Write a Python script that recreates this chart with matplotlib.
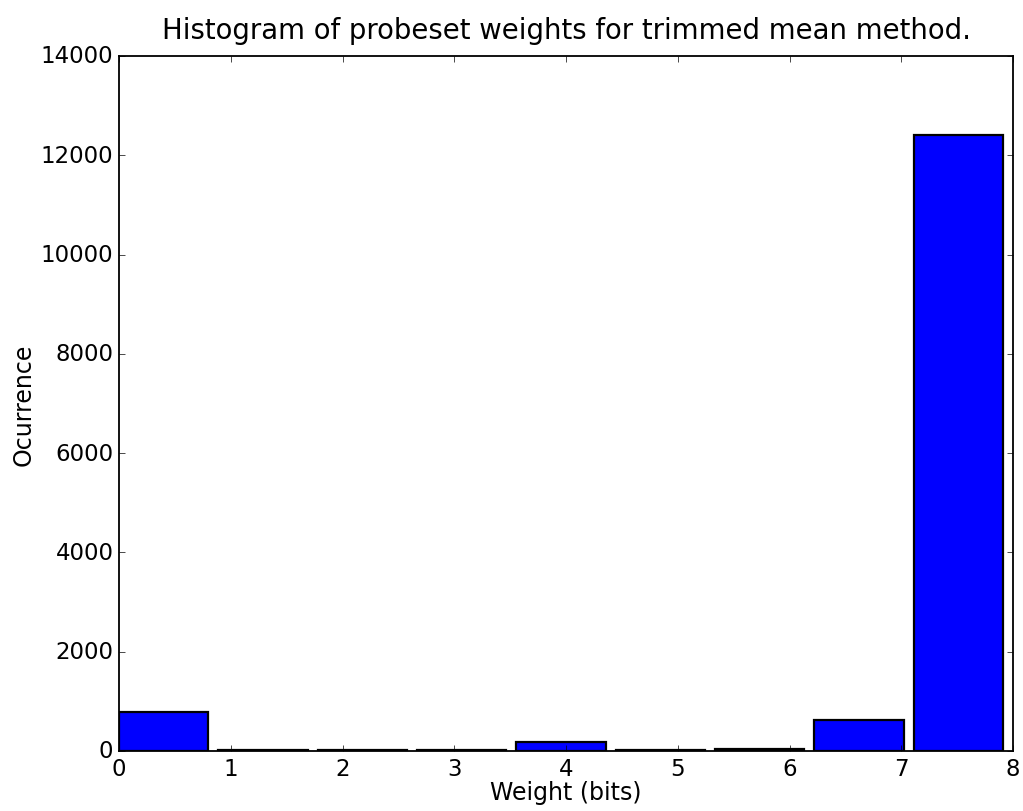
import matplotlib
matplotlib.use("Agg")
import matplotlib.pyplot as plt
import numpy as np

plt.style.use('classic')

bin_edges = np.linspace(0, 8, 10)
counts = [785, 14, 12, 25, 175, 12, 40, 625, 12400]
rwidth = 0.9

fig = plt.figure(figsize=(10.23, 8.12), dpi=100)
fig.patch.set_facecolor('white')
ax = fig.add_axes([119/1023, 1-752/812, (1013-119)/1023, (752-57)/812])
bw = bin_edges[1] - bin_edges[0]
ax.bar(bin_edges[:-1], counts, width=bw*rwidth, align='edge',
       color='#0000ff', edgecolor='black', linewidth=1.6)
for s in ax.spines.values():
    s.set_linewidth(1.3)
ax.set_xlim(0, 8)
ax.set_ylim(0, 14000)
ax.set_xticks(range(0, 9))
ax.set_yticks(range(0, 14001, 2000))
ax.tick_params(labelsize=16.5)
ax.set_title('Histogram of probeset weights for trimmed mean method.', fontsize=19.8, y=1.016)
ax.set_xlabel('Weight (bits)', fontsize=17, labelpad=0)
ax.set_ylabel('Ocurrence', fontsize=17, labelpad=4)
fig.savefig('out.png', dpi=100, facecolor='white')
